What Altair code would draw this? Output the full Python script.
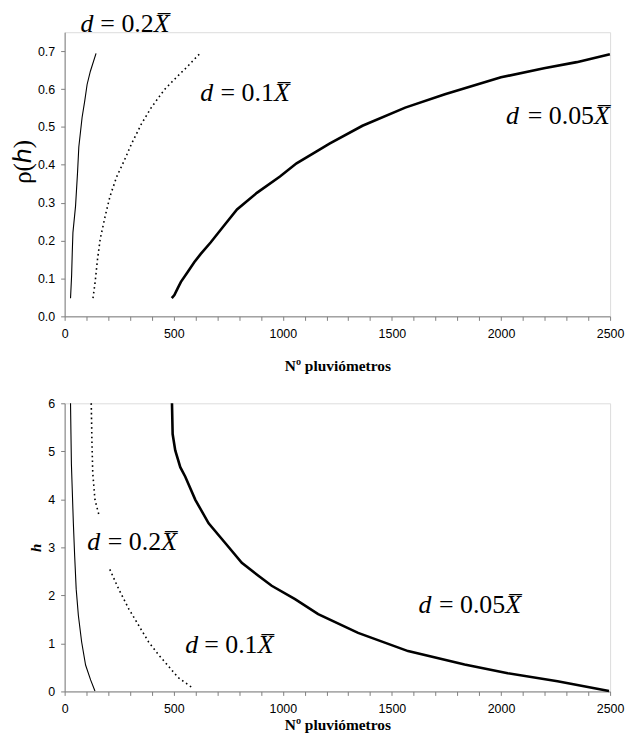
import altair as alt
import pandas as pd

# ---------------- data ----------------
# Top panel: rho(h) versus number of rain gauges
top_n_020 = [27, 32, 35, 38, 50, 59, 65, 80, 92, 103, 118, 144]
top_r_020 = [0.048, 0.108, 0.169, 0.221, 0.291, 0.378, 0.447, 0.525, 0.568, 0.612, 0.647, 0.694]

top_n_010 = [130, 140, 151, 163, 186, 208, 239, 274, 307, 352, 397, 458, 518, 564, 617]
top_r_010 = [0.048, 0.091, 0.152, 0.204, 0.265, 0.317, 0.369, 0.412, 0.456, 0.508, 0.551, 0.599, 0.634, 0.660, 0.692]

top_n_005 = [491, 503, 518, 533, 564, 594, 624, 669, 730, 790, 881, 987, 1063, 1153,
             1214, 1365, 1561, 1743, 2000, 2197, 2347, 2499]
top_r_005 = [0.048, 0.056, 0.074, 0.091, 0.117, 0.143, 0.165, 0.195, 0.239, 0.282, 0.326,
             0.369, 0.404, 0.435, 0.456, 0.503, 0.551, 0.586, 0.631, 0.655, 0.671, 0.692]

# Bottom panel: h versus number of rain gauges
bot_n_020 = [27, 29, 31, 35, 40, 46, 53, 63, 78, 96, 119, 139]
bot_h_020 = [6.0, 5.36, 4.74, 4.19, 3.5, 2.82, 2.13, 1.58, 1.03, 0.55, 0.24, 0.01]

bot_n_010a = [122, 125, 129, 139, 157]
bot_h_010a = [6.0, 5.22, 4.54, 3.99, 3.68]
bot_n_010b = [207, 248, 294, 340, 385, 431, 477, 520, 584]
bot_h_010b = [2.54, 2.13, 1.72, 1.37, 1.03, 0.76, 0.52, 0.29, 0.08]

bot_n_005 = [492, 495, 507, 530, 553, 599, 660, 736, 812, 888, 949, 1056,
             1162, 1345, 1574, 1833, 2031, 2259, 2495]
bot_h_005 = [6.0, 5.36, 5.02, 4.67, 4.47, 3.99, 3.5, 3.09, 2.68, 2.41, 2.2, 1.92,
             1.61, 1.22, 0.84, 0.56, 0.38, 0.21, 0.01]

# Curve labels: d = <k> X-bar (start N, end N, baseline value)
lab_panel = ["top", "top", "top", "bot", "bot", "bot"]
lab_k = ["0.2", "0.1", "0.05", "0.2", "0.1", "0.05"]
lab_n0 = [73, 621, 2023, 104, 553, 1622]
lab_n1 = [481, 1032, 2499, 515, 957, 2092]
lab_v = [0.751, 0.568, 0.509, 2.95, 0.81, 1.64]

x_ticks = list(range(0, 2501, 100))
top_y_ticks = [0.0, 0.1, 0.2, 0.3, 0.4, 0.5, 0.6, 0.7]
bot_y_ticks = [0, 1, 2, 3, 4, 5, 6]

# ---------------- tables ----------------
rows = []
def add(panel, style, seg, ns, vs):
    for i, (n, v) in enumerate(zip(ns, vs)):
        rows.append(dict(panel=panel, style=style, seg=seg, idx=i, n=n, val=v))

add("top", "thin", "a", top_n_020, top_r_020)
add("top", "dot", "a", top_n_010, top_r_010)
add("top", "thick", "a", top_n_005, top_r_005)
add("bot", "thin", "a", bot_n_020, bot_h_020)
add("bot", "dot", "a", bot_n_010a, bot_h_010a)
add("bot", "dot", "b", bot_n_010b, bot_h_010b)
add("bot", "thick", "a", bot_n_005, bot_h_005)
curves = pd.DataFrame(rows)

labels = pd.DataFrame(dict(panel=lab_panel, k=lab_k, n=lab_n0, n_end=lab_n1, val=lab_v))
labels["d"] = "d"
labels["mid"] = "= " + labels["k"]
labels["xbar"] = "X\u0305"

AX_COLOR = "#7f7f7f"
XTITLE = "Nº pluviómetros"
SERIF = "Liberation Serif"
SANS = "Liberation Sans"


def panel(name, ytitle, ydomain, yticks, yfmt, width, height, xtitle_pad, ytitle_font):
    xscale = alt.Scale(domain=[0, 2500], nice=False, zero=False)
    yscale = alt.Scale(domain=ydomain, nice=False)
    xaxis = alt.Axis(
        values=x_ticks,
        labelExpr="datum.value % 500 === 0 ? format(datum.value, 'd') : ''",
        labelOverlap=False, labelFlush=False, labelBound=False, grid=False,
        tickSize=4, labelPadding=7, titlePadding=xtitle_pad,
        domainColor=AX_COLOR, tickColor=AX_COLOR,
        labelFont=SANS, labelFontSize=12.5, labelColor="black",
        titleFont=SERIF, titleFontSize=15.5, titleFontWeight="bold", titleColor="black",
    )
    yaxis = alt.Axis(
        values=yticks, format=yfmt, grid=False, labelOverlap=False,
        tickSize=4, labelPadding=6,
        domainColor=AX_COLOR, tickColor=AX_COLOR,
        labelFont=SANS, labelFontSize=12.5, labelColor="black",
        titleColor="black", **ytitle_font,
    )
    cd = curves[curves.panel == name]
    ld = labels[labels.panel == name]

    def X(field):
        return alt.X(field, scale=xscale, axis=xaxis, title=XTITLE)

    Y = alt.Y("val:Q", scale=yscale, axis=yaxis, title=ytitle)

    base = alt.Chart(cd).encode(x=X("n:Q"), y=Y, detail="seg:N", order="idx:Q")
    thin = base.transform_filter("datum.style == 'thin'").mark_line(color="black", strokeWidth=1.1)
    dot = base.transform_filter("datum.style == 'dot'").mark_line(
        color="black", strokeWidth=1.6, strokeDash=[1.6, 3.2])
    thick = base.transform_filter("datum.style == 'thick'").mark_line(color="black", strokeWidth=2.6)

    tb = alt.Chart(ld)
    fs = 26
    t_d = tb.mark_text(align="left", baseline="alphabetic", font=SERIF, fontStyle="italic",
                       fontSize=fs, color="black").encode(x=X("n:Q"), y=Y, text="d:N")
    t_mid = tb.mark_text(align="right", baseline="alphabetic", font=SERIF, fontSize=fs,
                         color="black", dx=-16).encode(x=X("n_end:Q"), y=Y, text="mid:N")
    t_x = tb.mark_text(align="right", baseline="alphabetic", font=SERIF, fontStyle="italic",
                       fontSize=fs, color="black").encode(x=X("n_end:Q"), y=Y, text="xbar:N")

    return alt.layer(thin, dot, thick, t_d, t_mid, t_x).properties(width=width, height=height)


top = panel("top", "ρ(ℎ)", [0, 0.75], top_y_ticks, ".1f", 549, 286, 19,
            dict(titleFont=SERIF, titleFontSize=25, titleFontWeight="normal", titleY=130,
                 titlePadding=2))
bot = panel("bot", "h", [0, 6], bot_y_ticks, "d", 549, 290, 3,
            dict(titleFont=SERIF, titleFontSize=15, titleFontWeight="bold", titleFontStyle="italic"))

chart = alt.vconcat(top, bot, spacing=21.5).configure_view(stroke=None).configure(
    background="white", padding={"left": 2, "top": 0, "right": 0, "bottom": 0})

chart.save("out.html", embed_options={"renderer": "svg", "actions": False})
